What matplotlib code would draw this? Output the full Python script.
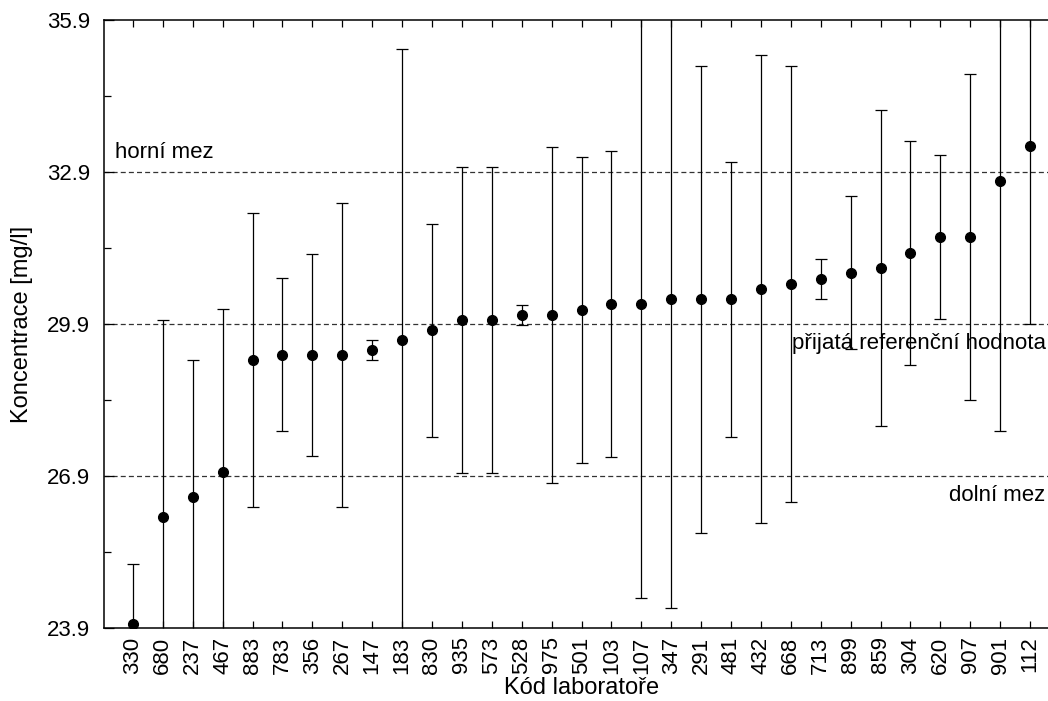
import matplotlib.pyplot as plt
import numpy as np

plt.rcParams['font.family'] = ['Liberation Sans', 'DejaVu Sans']

# laboratory codes, ordered by reported value
labs = ['330', '680', '237', '467', '883', '783', '356', '267', '147', '183',
        '830', '935', '573', '528', '975', '501', '103', '107', '347', '291',
        '481', '432', '668', '713', '899', '859', '304', '620', '907', '901', '112']
values = [23.98, 26.09, 26.49, 26.98, 29.19, 29.29, 29.29, 29.29, 29.39, 29.58,
          29.78, 29.98, 29.98, 30.08, 30.08, 30.18, 30.30, 30.30, 30.39, 30.39,
          30.39, 30.59, 30.69, 30.79, 30.91, 31.01, 31.30, 31.62, 31.62, 32.72, 33.41]
uncert = [1.18, 3.89, 2.70, 3.22, 2.90, 1.51, 2.00, 3.00, 0.20, 5.75,
          2.10, 3.02, 3.02, 0.20, 3.32, 3.02, 3.02, 5.81, 6.10, 4.61,
          2.71, 4.62, 4.31, 0.40, 1.51, 3.12, 2.21, 1.62, 3.21, 4.93, 3.51]

lower_limit = 26.9
reference = 29.9
upper_limit = 32.9
yticks = [23.9, 26.9, 29.9, 32.9, 35.9]

fig = plt.figure(figsize=(10.48, 7.01), dpi=100)
ax = fig.add_axes([0.0992, 0.104, 0.9008, 0.8675])

x = np.arange(len(labs))
ax.errorbar(x, values, yerr=uncert, fmt='o', color='black', ms=7,
            elinewidth=0.9, capsize=4, capthick=0.9, zorder=3)

for yv in (lower_limit, reference, upper_limit):
    ax.axhline(yv, color='#333333', lw=0.9, dashes=(4, 2.5), zorder=1)

ax.text(0.012, upper_limit + 0.18, 'horní mez', transform=ax.get_yaxis_transform(),
        ha='left', va='bottom', fontsize=16)
ax.text(0.9975, reference - 0.17, 'přijatá referenční hodnota', transform=ax.get_yaxis_transform(),
        ha='right', va='top', fontsize=16)
ax.text(0.9975, lower_limit - 0.17, 'dolní mez', transform=ax.get_yaxis_transform(),
        ha='right', va='top', fontsize=16)

ax.set_xlim(-0.97, 30.6)
ax.set_ylim(23.9, 35.9)
ax.set_xticks(x)
ax.set_xticklabels(labs, rotation=90, fontsize=16)
ax.set_yticks(yticks)
ax.set_yticklabels([f'{v:.1f}' for v in yticks], fontsize=16)
ax.set_yticks(np.arange(25.4, 35.9, 3.0), minor=True)
ax.tick_params(axis='both', which='both', direction='in', top=True, right=False, length=5, width=0.9)
ax.tick_params(axis='y', which='major', length=7, pad=10)
ax.tick_params(axis='x', pad=6)
ax.spines['right'].set_visible(False)
for s in ax.spines.values():
    s.set_linewidth(1.1)

ax.set_xlabel('Kód laboratoře', fontsize=17)
ax.xaxis.set_label_coords(0.506, -0.099)
ax.xaxis.label.set_va('center')
ax.set_ylabel('Koncentrace [mg/l]', fontsize=17, labelpad=10)

fig.savefig('out.png', dpi=100)
